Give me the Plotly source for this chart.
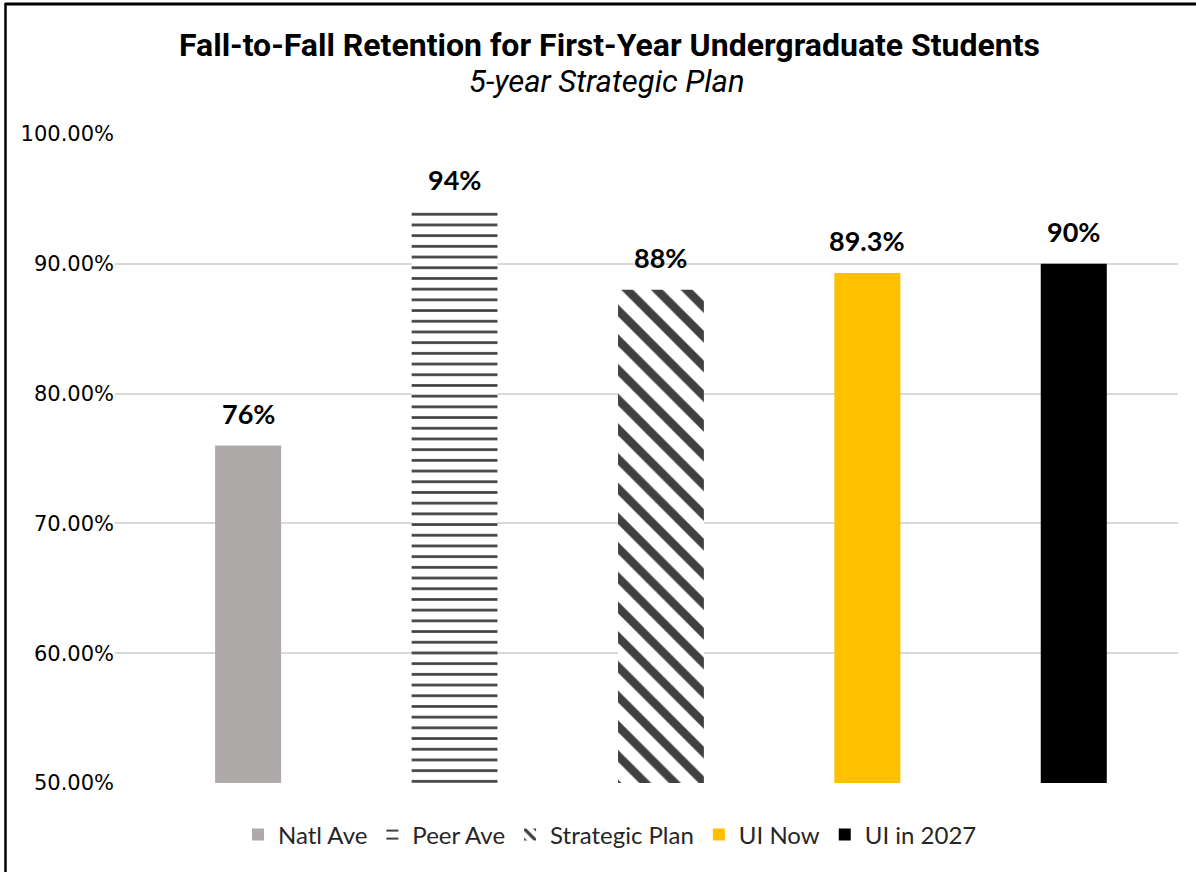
import plotly.graph_objects as go

categories = ["Natl Ave", "Peer Ave", "Strategic Plan", "UI Now", "UI in 2027"]
values = [76, 94, 88, 89.3, 90]
labels = ["76%", "94%", "88%", "89.3%", "90%"]
tick_vals = [50, 60, 70, 80, 90, 100]
tick_text = ["50.00%", "60.00%", "70.00%", "80.00%", "90.00%", "100.00%"]

colors = ["#AEAAAA", "#FFFFFF", "#FFFFFF", "#FFC000", "#000000"]
patterns = [None, "-", "\\", None, None]
widths = [0.32, 0.416, 0.416, 0.32, 0.32]

W, H = 1196, 872
L, R, T, B = 115, 18, 134, 89
pw, ph = W - L - R, H - T - B

def px(x):
    return (x - L) / pw

def py(y):
    return (H - B - y) / ph

fig = go.Figure()
for i, c in enumerate(categories):
    marker = dict(color=colors[i], line=dict(width=0))
    if patterns[i]:
        marker["pattern"] = dict(shape=patterns[i], fgcolor="#404040", bgcolor="#FFFFFF",
                                 fgopacity=1,
                                 size=10.7 if patterns[i] == "-" else 21,
                                 solidity=0.25 if patterns[i] == "-" else 0.4,
                                 fillmode="replace")
    fig.add_trace(go.Bar(x=[c], y=[values[i] - 50], base=50, name=c, width=widths[i],
                         marker=marker, showlegend=True))
    fig.add_annotation(x=c, y=values[i], xref="x", yref="y", text="<b>%s</b>" % labels[i],
                       showarrow=False, yanchor="middle", yshift=32,
                       font=dict(family="Lato", size=27, color="#000000"))

fig.add_annotation(x=px(609), y=py(45), xref="paper", yref="paper",
                   text="<b>Fall-to-Fall Retention for First-Year Undergraduate Students</b>",
                   showarrow=False, xanchor="center", yanchor="middle",
                   font=dict(family="Roboto", size=32, color="#000000"))
fig.add_annotation(x=px(607), y=py(82), xref="paper", yref="paper",
                   text="<i>5-year Strategic Plan</i>",
                   showarrow=False, xanchor="center", yanchor="middle",
                   font=dict(family="Roboto", size=31, color="#000000"))

# border lines
fig.add_shape(type="line", xref="paper", yref="paper", x0=px(5), x1=px(1196), y0=py(4), y1=py(4),
              line=dict(color="#000000", width=3))
fig.add_shape(type="line", xref="paper", yref="paper", x0=px(5.5), x1=px(5.5), y0=py(3), y1=py(872),
              line=dict(color="#000000", width=2.5))

fig.update_layout(
    width=W, height=H,
    margin=dict(l=L, r=R, t=T, b=B),
    paper_bgcolor="#FFFFFF", plot_bgcolor="#FFFFFF",
    barmode="overlay",
    showlegend=True,
    legend=dict(orientation="h", x=px(610), y=py(835), xanchor="center", yanchor="middle",
                font=dict(family="Lato", size=24, color="#262626"), traceorder="normal"),
    xaxis=dict(type="category", range=[-0.645, 4.505], showticklabels=False, showgrid=False,
               zeroline=False, showline=False, ticks=""),
    yaxis=dict(range=[50, 100], tickvals=tick_vals, ticktext=tick_text, showgrid=True,
               gridcolor="#D9D9D9", gridwidth=1.5, zeroline=False, showline=False,
               ticks="", ticklabelstandoff=0,
               tickfont=dict(family="DejaVu Sans", size=21, color="#000000")),
)

fig.write_html("out.html", config={"displayModeBar": False},
               post_script="document.body.style.margin='0';document.body.style.overflow='hidden';")
